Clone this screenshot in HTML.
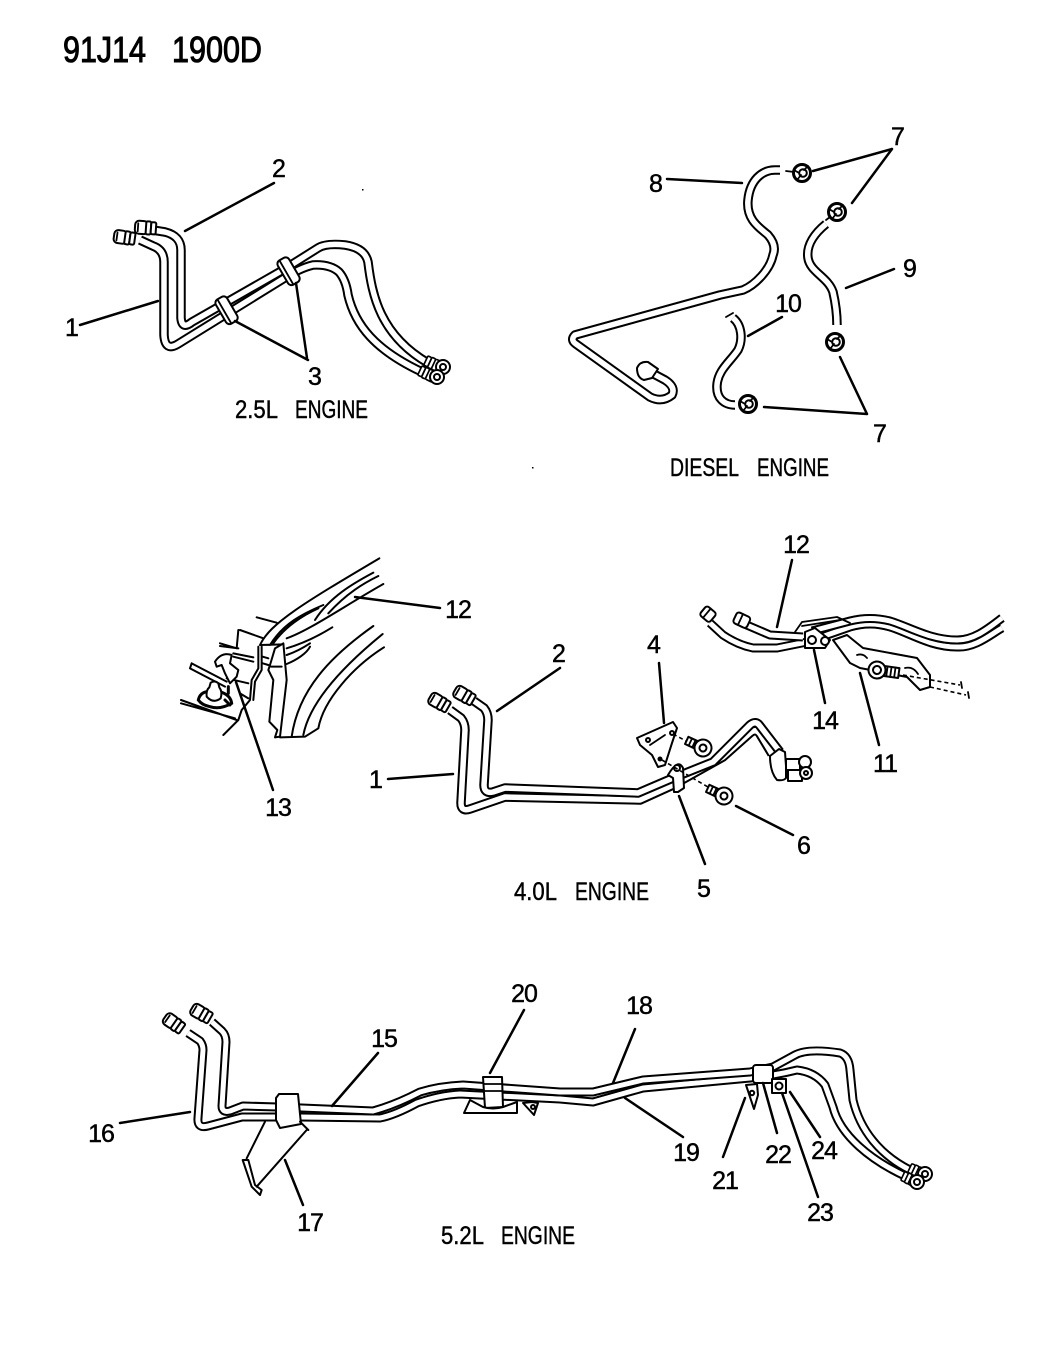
<!DOCTYPE html>
<html><head><meta charset="utf-8"><style>
html,body{margin:0;padding:0;background:#fff}
svg{display:block}
text{font-family:"Liberation Sans",sans-serif;fill:#000;font-size:25px;text-anchor:middle;stroke:#000;stroke-width:.45px}
.e{text-anchor:start;font-size:25px}
.h{text-anchor:start;font-size:36px;stroke:#000;stroke-width:1px}
.l{fill:none;stroke:#000;stroke-width:2.5;stroke-linecap:round}
.f{fill:none;stroke:#000;stroke-width:1.8;stroke-linejoin:round;stroke-linecap:round}
.w{fill:#fff;stroke:#000;stroke-width:2;stroke-linejoin:round}
.o{fill:none;stroke:#000;stroke-width:9.5;stroke-linejoin:round}
.i{fill:none;stroke:#fff;stroke-width:5.5;stroke-linejoin:round}
.o2{fill:none;stroke:#000;stroke-width:9;stroke-linejoin:round}
.i2{fill:none;stroke:#fff;stroke-width:5;stroke-linejoin:round}
.d{fill:none;stroke:#000;stroke-width:1.6;stroke-dasharray:4 3}
.z{fill:none;stroke:#000;stroke-width:6;stroke-linejoin:round;stroke-linecap:round}
.zw{fill:#fff;stroke:#000;stroke-width:6;stroke-linejoin:round}
</style></head><body>
<svg width="1046" height="1345" viewBox="0 0 1046 1345" xmlns="http://www.w3.org/2000/svg">
<defs>
<g id="c"><rect x="0" y="-6.5" width="13" height="13" rx="4" class="w"/><rect x="11" y="-6.5" width="5" height="13" rx="1.5" class="w"/><rect x="16" y="-6" width="5" height="12" rx="1.5" class="w"/><path class="f" d="M3,-4v8"/></g>
<g id="n"><circle r="8.5" class="w" style="stroke-width:3"/><circle cx="1" r="3.8" class="w"/><path class="f" d="M-8,-3l5,3M-5,7l4,-5M6,-7l-4,4"/></g>
<g id="e"><circle r="7" class="w"/><circle r="3" class="w"/></g>
<g id="b"><rect x="-18" y="-4" width="12" height="8" class="w"/><path class="f" d="M-14,-4v8M-10,-4v8"/><circle r="8.5" class="w"/><circle r="3.5" class="w"/></g>
</defs>

<!-- heading -->
<text class="h" x="63" y="62" textLength="83" lengthAdjust="spacingAndGlyphs">91J14</text>
<text class="h" x="172" y="62" textLength="90" lengthAdjust="spacingAndGlyphs">1900D</text>

<!-- 2.5L -->
<path class="o" d="M140,240 L153,246 Q164,250 164,262 L164,335 Q165,352 178,344 L283,279 Q300,268 313,265 Q330,264 339,272 Q346,280 348,295 C355,325 375,350 422,372"/>
<path class="i" d="M140,240 L153,246 Q164,250 164,262 L164,335 Q165,352 178,344 L283,279 Q300,268 313,265 Q330,264 339,272 Q346,280 348,295 C355,325 375,350 422,372"/>
<path class="o" d="M140,228 L165,232 Q181,236 181,250 L181,318 Q182,330 192,322 L283,270 L318,248 Q326,243 345,245 Q365,248 368,262 C372,295 380,335 428,363"/>
<path class="i" d="M140,228 L165,232 Q181,236 181,250 L181,318 Q182,330 192,322 L283,270 L318,248 Q326,243 345,245 Q365,248 368,262 C372,295 380,335 428,363"/>
<use href="#c" transform="translate(114,236) rotate(8)"/>
<use href="#c" transform="translate(135,227) rotate(4)"/>
<use href="#c" transform="translate(442,368) rotate(205) scale(.85)"/>
<use href="#c" transform="translate(436,378) rotate(205) scale(.85)"/>
<use href="#e" transform="translate(443,367)"/>
<use href="#e" transform="translate(437,377)"/>
<g transform="translate(227,310) rotate(-30)"><rect x="-7" y="-14" width="13" height="28" rx="4" class="w"/><path class="f" d="M-3,-14v28"/></g>
<g transform="translate(289,271) rotate(-30)"><rect x="-7" y="-14" width="13" height="28" rx="4" class="w"/><path class="f" d="M-3,-14v28"/></g>
<path class="l" d="M80,325L158,301M185,231L274,183M235,321L308,360M296,283L307,358"/>
<text x="72" y="336">1</text><text x="279" y="177">2</text><text x="315" y="385">3</text>
<text class="e" x="235" y="418" textLength="43" lengthAdjust="spacingAndGlyphs">2.5L</text>
<text class="e" x="295" y="418" textLength="73" lengthAdjust="spacingAndGlyphs">ENGINE</text>

<!-- Diesel -->
<path class="o" d="M780,170 L775,170 C762,170 750,180 748,200 C746,220 760,228 768,235 C775,243 775,250 773,255 C770,270 755,285 743,290 L720,295 L575,335 Q570,340 576,344 L650,397 Q662,403 672,395 Q676,387 665,380 L650,372"/>
<path class="i" d="M780,170 L775,170 C762,170 750,180 748,200 C746,220 760,228 768,235 C775,243 775,250 773,255 C770,270 755,285 743,290 L720,295 L575,335 Q570,340 576,344 L650,397 Q662,403 672,395 Q676,387 665,380 L650,372"/>
<path class="w" d="M637,368 Q640,361 648,362 L658,369 L652,378 L644,380 Q637,378 637,368Z"/>
<path class="o" d="M826,224 C815,233 806,245 808,258 C810,272 828,277 833,292 C836,305 837,315 837,325"/>
<path class="i" d="M826,224 C815,233 806,245 808,258 C810,272 828,277 833,292 C836,305 837,315 837,325"/>
<path class="o" d="M733,318 C742,325 743,340 738,350 C730,362 718,370 717,385 C716,398 724,405 735,405"/>
<path class="i" d="M733,318 C742,325 743,340 738,350 C730,362 718,370 717,385 C716,398 724,405 735,405"/>
<path class="f" d="M726,317L733,313"/>
<use href="#n" transform="translate(802,173)"/><use href="#n" transform="translate(837,212)"/><use href="#n" transform="translate(835,342)"/><use href="#n" transform="translate(748,404)"/>
<path class="f" d="M786,171L794,172M826,220L830,217"/>
<path class="l" d="M667,179L742,183M813,171L892,149M852,203L892,149M846,288L894,269M748,336L782,317M840,357L867,414M764,407L867,414"/>
<text x="656" y="192">8</text><text x="898" y="145">7</text><text x="910" y="277">9</text><text x="788" y="312" letter-spacing="-1">10</text><text x="880" y="442">7</text>
<text class="e" x="670" y="476" textLength="69" lengthAdjust="spacingAndGlyphs">DIESEL</text>
<text class="e" x="757" y="476" textLength="72" lengthAdjust="spacingAndGlyphs">ENGINE</text>

<!-- fender detail -->
<g transform="translate(170,540) scale(.33333)">
<path class="z" d="M260,232L320,248M270,315C300,250 400,190 628,55M300,315C340,250 400,220 460,195M310,310C345,260 400,225 445,205M435,240C480,170 550,130 610,98M475,220C530,160 580,130 625,108M350,295C420,270 520,200 640,132M350,325C400,310 450,285 487,262M350,345C380,335 405,320 420,310M350,372C380,360 410,340 420,320M270,315L340,313"/>
<path class="z" d="M265,320L265,385L245,420L240,480L215,510L205,540L160,585M275,320L275,390L255,425L250,480"/>
<path class="zw" d="M315,325L340,310L350,420L330,590L315,592L322,570L298,545L310,420L295,390L300,375Z"/>
<path class="z" d="M303,380L335,380M330,592L405,590L445,565M365,590C385,450 480,350 610,258M400,585C420,480 530,370 638,282M445,565C460,480 550,380 642,322"/>
<path class="z" d="M205,270L200,325L150,310M210,270L280,295M205,325L150,318M190,340L250,352M190,350L250,365M278,350L295,355M278,370L295,375M65,370L60,385L165,440M65,370L170,425M33,480L200,540M33,490L195,535M170,415L235,430M210,460L235,475"/>
<path class="zw" d="M135,365Q155,335 185,345L180,370L205,390L200,410L180,430L165,400L155,375L140,380Z"/>
<path d="M85,480Q90,458 112,455L150,455Q182,465 185,490Q150,510 120,500Q95,495 85,480Z" fill="#fff" stroke="#000" stroke-width="9"/>
<path class="zw" d="M110,470Q108,450 118,442L122,428Q135,420 145,430L148,442Q158,455 152,475Q130,492 110,470Z"/>
<path class="z" d="M175,440L175,460M165,480L180,495" style="stroke-width:9"/>
</g>
<path class="l" d="M355,597L440,608M236,682L273,790"/>
<text x="458" y="618" letter-spacing="-1">12</text><text x="278" y="816" letter-spacing="-1">13</text>

<!-- 4.0L -->
<path class="o" d="M450,710L461,718Q465,723 465,730L461,803Q461,812 470,809L505,797L640,800L673,785L723,757L750,733Q756,728 760,734L772,754"/>
<path class="i" d="M450,710L461,718Q465,723 465,730L461,803Q461,812 470,809L505,797L640,800L673,785L723,757L750,733Q756,728 760,734L772,754"/>
<path class="o" d="M474,701L484,708Q488,713 488,720L484,785Q484,794 493,792L505,788L638,793L673,778L713,762L750,725Q756,720 760,726L780,752"/>
<path class="i" d="M474,701L484,708Q488,713 488,720L484,785Q484,794 493,792L505,788L638,793L673,778L713,762L750,725Q756,720 760,726L780,752"/>
<use href="#c" transform="translate(430,697) rotate(30)"/>
<use href="#c" transform="translate(455,690) rotate(30)"/>
<path class="w" d="M770,756L779,749L785,752L786,766L786,778Q784,781 777,780Q770,772 770,756Z"/>
<rect x="786" y="759" width="14" height="11" class="w"/><rect x="788" y="770" width="14" height="11" class="w"/>
<circle cx="805" cy="762" r="6" class="w"/><circle cx="806" cy="773" r="6" class="w"/><circle cx="806" cy="773" r="2" class="w"/>
<path class="w" d="M637,738L673,722L677,728L672,743L665,765L658,767L652,755L640,745Z"/>
<path class="f" d="M650,745L665,735"/>
<circle cx="660" cy="759" r="2.5" fill="#000"/><circle cx="672" cy="733" r="2" class="w"/><circle cx="648" cy="740" r="2" class="w"/>
<path class="w" d="M668,775Q678,758 683,768L684,788L678,792L674,792L673,778Z"/>
<circle cx="677" cy="768" r="3" class="w"/>
<path class="d" d="M673,734L690,743M662,760L713,790"/>
<use href="#b" transform="translate(703,748) rotate(25)"/>
<use href="#b" transform="translate(724,796) rotate(25)"/>
<path class="l" d="M497,711L560,668M388,779L453,774M659,663L664,723M679,796L705,864M736,806L793,835"/>
<text x="376" y="788">1</text><text x="559" y="662">2</text><text x="654" y="653">4</text><text x="704" y="897">5</text><text x="804" y="854">6</text>
<text class="e" x="514" y="900" textLength="43" lengthAdjust="spacingAndGlyphs">4.0L</text>
<text class="e" x="575" y="900" textLength="74" lengthAdjust="spacingAndGlyphs">ENGINE</text>

<!-- 4.0L detail top right -->
<path class="o2" d="M710,623L723,635Q738,645 753,648L777,648L807,642L850,627Q870,621 890,627C910,633 930,647 957,647C975,648 990,635 1002,628"/>
<path class="i2" d="M710,623L723,635Q738,645 753,648L777,648L807,642L850,627Q870,621 890,627C910,633 930,647 957,647C975,648 990,635 1002,628"/>
<path class="o2" d="M812,631L850,621Q870,616 890,621C910,627 930,640 957,640C975,640 990,627 1002,618"/>
<path class="i2" d="M812,631L850,621Q870,616 890,621C910,627 930,640 957,640C975,640 990,627 1002,618"/>
<path class="o2" d="M742,623L770,635L803,637"/><path class="i2" d="M742,623L770,635L803,637"/>
<path class="f" d="M795,632L802,622L837,617L850,623M802,626L840,620"/>
<path class="w" d="M847,635L863,648L917,658L930,675L930,687L920,690L907,677L860,668L850,663L833,640Z"/>
<path class="f" d="M857,655q6,-2 10,3M905,668q8,-2 13,6"/>
<path class="w" d="M805,632L815,628L830,640L825,648L805,648Z"/>
<circle cx="812" cy="640" r="4" class="w"/><circle cx="825" cy="641" r="4" class="w"/>
<g transform="translate(877,670) rotate(8)"><rect x="5" y="-5" width="17" height="10" class="w"/><path class="f" d="M10,-5v10M14,-5v10M18,-5v10"/><circle r="8.5" class="w"/><circle r="4" class="w"/></g>
<path class="d" d="M903,675L960,685M930,687L966,695"/><path class="f" d="M961,682l1,6M968,692l1,6"/>
<g transform="translate(703,610) rotate(40)"><rect x="0" y="-6" width="13" height="12" rx="3" class="w"/><path class="f" d="M5,-6v12"/></g>
<g transform="translate(735,617) rotate(25)"><rect x="0" y="-6" width="15" height="12" rx="3" class="w"/><path class="f" d="M6,-6v12"/></g>
<path class="l" d="M792,560L777,627M814,650L825,703M860,673L879,745"/>
<text x="796" y="553" letter-spacing="-1">12</text><text x="825" y="729" letter-spacing="-1">14</text><text x="885" y="772" letter-spacing="-1">11</text>

<!-- 5.2L -->
<path class="o2" d="M188,1033L200,1041Q203,1045 203,1050L198,1118Q197,1129 208,1126L242,1117L300,1117L380,1118Q395,1115 417,1103Q440,1095 460,1094L560,1099L593,1102L643,1088L750,1078L773,1075Q785,1073 797,1070Q815,1072 825,1085L833,1107C840,1135 870,1160 907,1177"/>
<path class="i2" d="M188,1033L200,1041Q203,1045 203,1050L198,1118Q197,1129 208,1126L242,1117L300,1117L380,1118Q395,1115 417,1103Q440,1095 460,1094L560,1099L593,1102L643,1088L750,1078L773,1075Q785,1073 797,1070Q815,1072 825,1085L833,1107C840,1135 870,1160 907,1177"/>
<path class="o2" d="M212,1022L222,1031Q226,1035 226,1042L222,1106Q222,1113 230,1111L243,1106L278,1107L373,1111Q395,1105 420,1092Q440,1086 463,1085L560,1092L593,1092L643,1080L750,1072L773,1067L795,1055Q808,1048 840,1053Q849,1056 850,1070L853,1100C860,1130 880,1155 910,1170"/>
<path class="i2" d="M212,1022L222,1031Q226,1035 226,1042L222,1106Q222,1113 230,1111L243,1106L278,1107L373,1111Q395,1105 420,1092Q440,1086 463,1085L560,1092L593,1092L643,1080L750,1072L773,1067L795,1055Q808,1048 840,1053Q849,1056 850,1070L853,1100C860,1130 880,1155 910,1170"/>
<use href="#c" transform="translate(165,1017) rotate(35)"/>
<use href="#c" transform="translate(192,1008) rotate(30)"/>
<use href="#c" transform="translate(925,1175) rotate(205) scale(.8)"/>
<use href="#c" transform="translate(918,1183) rotate(205) scale(.8)"/>
<use href="#e" transform="translate(925,1174)"/>
<use href="#e" transform="translate(917,1182)"/>
<path class="w" d="M276,1098L279,1094L298,1094L301,1124L280,1128L276,1120Z"/>
<path class="w" d="M483,1077L502,1077L503,1107L485,1108Z"/>
<path class="f" d="M484,1084L502,1084M484,1091L502,1091"/>
<path class="w" d="M464,1113L470,1100L483,1107Q493,1110 503,1107L517,1102L517,1113Z"/>
<path class="w" d="M523,1103L532,1102L538,1103L534,1115Z"/><circle cx="533" cy="1107" r="2" class="w"/>
<rect x="753" y="1065" width="20" height="18" rx="3" class="w"/>
<path class="w" d="M746,1085L757,1084L758,1095L754,1109Z"/><circle cx="752" cy="1093" r="2.2" class="w"/>
<rect x="772" y="1079" width="14" height="14" class="w"/><circle cx="779" cy="1086" r="3.5" class="w"/>
<g transform="translate(140,990) scale(.33333)"><path class="z" d="M375,395L320,505M308,510L335,590L360,615L365,600L345,585L325,510ZM500,420L350,590M480,395L505,420"/></g>
<path class="l" d="M120,1123L190,1112M332,1106L378,1053M490,1073L524,1010M285,1160L303,1205M613,1083L635,1029M625,1098L683,1137M745,1098L723,1157M763,1083L777,1133M782,1093L818,1197M790,1092L820,1137"/>
<text x="384" y="1047" letter-spacing="-1">15</text><text x="101" y="1142" letter-spacing="-1">16</text><text x="310" y="1231" letter-spacing="-1">17</text>
<text x="639" y="1014" letter-spacing="-1">18</text><text x="686" y="1161" letter-spacing="-1">19</text><text x="524" y="1002" letter-spacing="-1">20</text>
<text x="725" y="1189" letter-spacing="-1">21</text><text x="778" y="1163" letter-spacing="-1">22</text><text x="820" y="1221" letter-spacing="-1">23</text><text x="824" y="1159" letter-spacing="-1">24</text>
<text class="e" x="441" y="1244" textLength="43" lengthAdjust="spacingAndGlyphs">5.2L</text>
<text class="e" x="501" y="1244" textLength="74" lengthAdjust="spacingAndGlyphs">ENGINE</text>

<rect x="362" y="189" width="1.5" height="1.5" fill="#000"/><rect x="532" y="467" width="1.5" height="1.5" fill="#000"/>
</svg>
</body></html>
